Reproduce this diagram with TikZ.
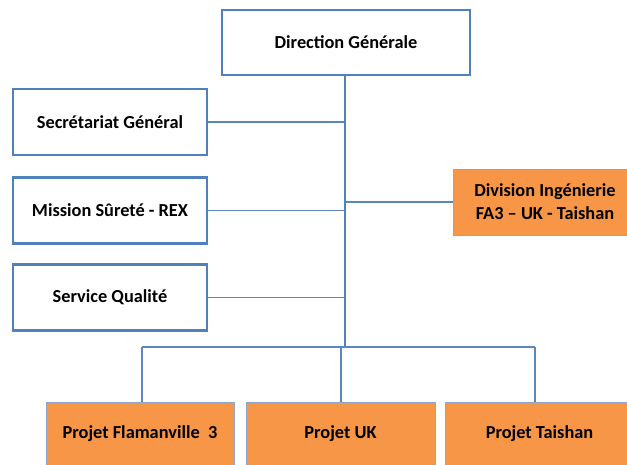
\documentclass[tikz,border=0pt]{standalone}
\usepackage{fontspec}
\setmainfont{Carlito}
\definecolor{boxblue}{HTML}{4F81BD}
\definecolor{linkblue}{HTML}{5E86BE}
\definecolor{orgfill}{HTML}{F79646}
\definecolor{orgedge}{HTML}{8DA6CB}
\begin{document}
\begin{tikzpicture}[x=1bp,y=-1bp,
  every node/.style={font=\fontsize{18.4}{23}\selectfont\bfseries, align=center, inner sep=0pt},
  bluebox/.style={draw=boxblue, line width=2.6bp, fill=white},
  orangebox/.style={draw=orgedge, line width=0.9bp, fill=orgfill},
  link/.style={draw=linkblue, line width=1.1bp},
  trunkline/.style={draw=boxblue, line width=1.8bp}]
  \useasboundingbox (0,0) rectangle (627,465);
  \clip (0,0) rectangle (627,465);

  % top of the chart
  \node[bluebox, minimum width=248bp, minimum height=65bp] (dg) at (346,42.5) {Direction Générale};

  % staff units on the left
  \node[bluebox, minimum width=194bp, minimum height=66bp] (sg) at (110,122) {Secrétariat Général};
  \node[bluebox, minimum width=194bp, minimum height=66bp] (ms) at (110,210.5) {Mission Sûreté - REX};
  \node[bluebox, minimum width=194bp, minimum height=66bp] (sq) at (110,297.5) {Service Qualité};

  % engineering division on the right
  \node[orangebox, minimum width=184bp, minimum height=66bp] (div) at (545,202) {Division Ingénierie\\FA3 – UK - Taishan};

  % projects
  \node[orangebox, minimum width=188bp, minimum height=64bp] (p1) at (140,434) {Projet Flamanville~~3};
  \node[orangebox, minimum width=189bp, minimum height=64bp] (p2) at (340.5,434) {Projet UK};
  \node[orangebox, minimum width=189bp, minimum height=64bp] (p3) at (539.5,434) {Projet Taishan};

  % connectors
  \coordinate (bus) at (345,347);
  \coordinate (b1) at (142,347);
  \coordinate (b2) at (341,347);
  \coordinate (b3) at (535,347);

  \draw[link] (sg.east) -- (sg.east -| bus);
  \draw[link] (ms.east) -- (ms.east -| bus);
  \draw[link] (sq.east) -- (sq.east -| bus);
  \draw[link] (div.west) -- (div.west -| bus);
  \draw[link] (b1) -- (b3);
  \draw[link] (b1) -- (b1 |- p1.north);
  \draw[link] (b2) -- (b2 |- p2.north);
  \draw[link] (b3) -- (b3 |- p3.north);
  \draw[trunkline] (dg.south -| bus) -- (bus);
\end{tikzpicture}
\end{document}
